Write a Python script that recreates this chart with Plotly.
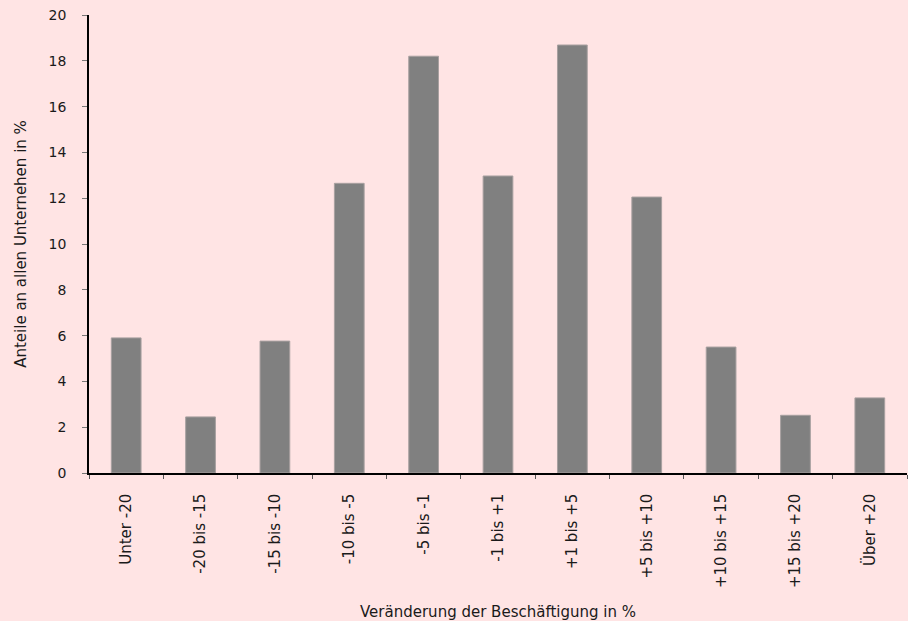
import plotly.graph_objects as go

BG = "#FFE4E4"
BAR = "#808080"
TEXT = "#1a1a1a"
FONT = "Century Gothic, DejaVu Sans, sans-serif"

categories = ["Unter -20", "-20 bis -15", "-15 bis -10", "-10 bis -5", "-5 bis -1",
              "-1 bis +1", "+1 bis +5", "+5 bis +10", "+10 bis +15", "+15 bis +20",
              "Über +20"]
anteile = [5.9, 2.45, 5.76, 12.65, 18.2, 12.97, 18.69, 12.05, 5.5, 2.52, 3.28]

y_ticks = [0, 2, 4, 6, 8, 10, 12, 14, 16, 18, 20]

fig = go.Figure(go.Bar(
    x=categories, y=anteile,
    marker=dict(color=BAR, line=dict(color="#A8A0A0", width=1)),
    hovertemplate="%{x}: %{y:.1f} %<extra></extra>",
))

fig.update_layout(
    width=908, height=621,
    paper_bgcolor=BG, plot_bgcolor=BG,
    font=dict(family=FONT, color=TEXT, size=15),
    margin=dict(l=89, r=1, t=15, b=148),
    bargap=0.6,
    showlegend=False,
    xaxis=dict(
        type="category", showline=True, linecolor="black", linewidth=1.5,
        ticks="outside", tickson="boundaries", ticklen=4, tickcolor="#555",
        tickangle=-90, tickfont=dict(size=15), ticklabelstandoff=13,
        showgrid=False, zeroline=False, automargin=False,
        title=dict(text="Veränderung der Beschäftigung in %", standoff=24,
                   font=dict(size=15)),
    ),
    yaxis=dict(
        range=[0, 20], tickvals=y_ticks, showline=True, linecolor="black",
        linewidth=1.5, ticks="outside", ticklen=5, tickcolor="#777",
        tickfont=dict(size=14), ticklabelstandoff=13,
        showgrid=False, zeroline=False, automargin=False,
        title=dict(text="Anteile an allen Unternehen in %", standoff=18,
                   font=dict(size=15)),
    ),
)

# drop the default page margin so the figure fills the window
fig.write_html("out.html", config={"displayModeBar": False},
               post_script="document.body.style.margin='0';")
